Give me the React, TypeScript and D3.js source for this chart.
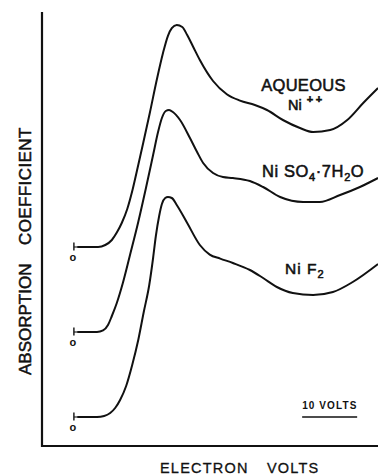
import React from "react";
import * as d3 from "d3";

// Energy (volts, relative) and absorption (arbitrary units above each curve's zero)
const energyAqueous = [6.4, 10.2, 11.5, 12.7, 13.6, 14.5, 15.5, 16.5, 17.5, 18.4, 19.6, 20.9, 22.0, 22.9, 23.6, 24.5, 25.5, 26.4, 27.5, 28.7, 31.1, 33.6, 36.0, 38.7, 40.9, 43.8, 46.9, 49.3, 52.4, 55.5, 58.4, 61.1];
const absAqueous = [0, 0, 0.5, 1.75, 3.6, 6.0, 9.5, 14.5, 20.5, 26, 33.5, 42, 48.5, 52.8, 54.7, 55.5, 55, 53, 50, 46.75, 41.5, 38.2, 36.6, 35.5, 34.25, 31.75, 29.75, 28.75, 29.25, 31.75, 36, 39.75];

const energySulfate = [6.4, 10.0, 11.1, 12.0, 12.7, 13.6, 14.7, 16.0, 17.5, 18.9, 20.2, 21.1, 21.8, 22.5, 23.1, 23.8, 25.1, 26.9, 28.2, 29.3, 31.1, 32.9, 34.7, 37.8, 40.2, 43.3, 47.5, 50.5, 54.2, 57.8, 61.1];
const absSulfate = [0, 0, 0.4, 1.75, 4, 7.25, 12.25, 19.25, 27.5, 36, 44.25, 50, 53.5, 55.25, 55.5, 55, 53, 48.5, 45, 42.25, 39.75, 38.75, 38.5, 37.75, 36.25, 33.75, 32.5, 32.5, 34.25, 36.25, 38.5];

const energyFluoride = [6.4, 10.0, 11.3, 12.4, 13.3, 14.2, 15.3, 16.4, 17.5, 18.5, 19.5, 20.2, 20.7, 21.3, 21.8, 22.4, 22.9, 23.6, 24.5, 26.4, 28.7, 30.5, 32.4, 34.7, 37.8, 40.2, 42.7, 45.6, 49.3, 52.9, 56.5, 61.1];
const absFluoride = [0, 0, 0.25, 1, 2.25, 4.25, 7.75, 13, 19.25, 26.25, 33, 39.75, 45.25, 50.25, 53.25, 54.75, 55, 54.75, 53, 48.5, 43, 40.6, 39.6, 38.5, 36.75, 34.75, 32.5, 31, 30.5, 31.25, 33.75, 38.25];

// vertical zero of each curve (arbitrary units)
const zeroOffsets = [49.75, 28.5, 7.25];
const zeroMarkVolts = 5.8;
const scaleBarStart = 47.3;
const scaleBarVolts = 10;

const FONT = "'Liberation Sans', Arial, Helvetica, sans-serif";

export default function App() {
  const W = 378;
  const H = 476;
  const x = d3.scaleLinear().domain([0, 61]).range([42, 377.5]);
  const y = d3.scaleLinear().domain([0, 108.25]).range([446, 13]);

  const series = [
    { e: energyAqueous, a: absAqueous, off: zeroOffsets[0] },
    { e: energySulfate, a: absSulfate, off: zeroOffsets[1] },
    { e: energyFluoride, a: absFluoride, off: zeroOffsets[2] },
  ];

  const line = d3
    .line<[number, number]>()
    .x((d) => x(d[0]))
    .y((d) => y(d[1]))
    .curve(d3.curveMonotoneX);

  return (
    <svg
      width={W}
      height={H}
      style={{ position: "absolute", left: 0, top: 0, background: "#fff" }}
    >
      <defs>
        <clipPath id="plotclip">
          <rect x={0} y={0} width={W} height={H} />
        </clipPath>
      </defs>
      {/* axes */}
      <line x1={x(0)} x2={x(0)} y1={y(108.5)} y2={y(0) + 1} stroke="#111" strokeWidth={2.2} />
      <line x1={x(0)} x2={W} y1={y(0)} y2={y(0)} stroke="#111" strokeWidth={2} />

      {/* curves */}
      <g clipPath="url(#plotclip)">
        {series.map((s, i) => {
          const pts = s.e.map((v, j) => [v, s.a[j] + s.off] as [number, number]);
          return (
            <g key={i}>
              <path d={line(pts) || ""} fill="none" stroke="#111" strokeWidth={2} strokeLinejoin="round" />
              <line
                x1={x(zeroMarkVolts)}
                x2={x(s.e[0]) + 1}
                y1={y(s.off)}
                y2={y(s.off)}
                stroke="#333"
                strokeWidth={1.3}
              />
              <line
                x1={x(zeroMarkVolts)}
                x2={x(zeroMarkVolts)}
                y1={y(s.off) - 4.5}
                y2={y(s.off) + 3.5}
                stroke="#111"
                strokeWidth={1.4}
              />
              <text
                x={x(zeroMarkVolts) - 1}
                y={y(s.off) + 14}
                fontFamily={FONT}
                fontWeight="bold"
                fontSize={11}
                textAnchor="middle"
                fill="#111"
              >
                o
              </text>
            </g>
          );
        })}
      </g>

      {/* curve labels */}
      <g fontFamily={FONT} fill="#111" stroke="#111" strokeWidth={0.55}>
        <text x={303.5} y={90.5} fontSize={16.5} textAnchor="middle" letterSpacing={0.3}>
          AQUEOUS
        </text>
        <text x={288} y={109.5} fontSize={14.5}>
          Ni
          <tspan dx={5} dy={-7} fontSize={11} fontWeight="bold" letterSpacing={2.5}>
            ++
          </tspan>
        </text>
        <text x={262} y={176.5} fontSize={16.5} letterSpacing={0.6}>
          Ni SO
          <tspan fontSize={11} dy={4}>4</tspan>
          <tspan dy={-4}>·7H</tspan>
          <tspan fontSize={11} dy={4}>2</tspan>
          <tspan dy={-4}>O</tspan>
        </text>
        <text x={285} y={273.5} fontSize={15.5} letterSpacing={1}>
          Ni F
          <tspan fontSize={11} dy={4}>2</tspan>
        </text>
      </g>

      {/* scale bar */}
      <text
        x={x(scaleBarStart)}
        y={408.5}
        fontFamily={FONT}
        fontWeight="bold"
        fontSize={10}
        letterSpacing={1.1}
        fill="#111"
      >
        10 VOLTS
      </text>
      <line
        x1={x(scaleBarStart)}
        x2={x(scaleBarStart + scaleBarVolts)}
        y1={417}
        y2={417}
        stroke="#111"
        strokeWidth={1.5}
      />

      {/* axis titles */}
      <g fontFamily={FONT} fill="#111" stroke="#111" strokeWidth={0.3} fontSize={14.5} letterSpacing={1.2}>
        <text x={160} y={473}>ELECTRON</text>
        <text x={267} y={473}>VOLTS</text>
      </g>
      <g fontFamily={FONT} fill="#111" stroke="#111" strokeWidth={0.5} fontSize={17}>
        <text transform="translate(31,375) rotate(-90)">ABSORPTION</text>
        <text transform="translate(31,245) rotate(-90)" letterSpacing={0.4}>COEFFICIENT</text>
      </g>
    </svg>
  );
}
